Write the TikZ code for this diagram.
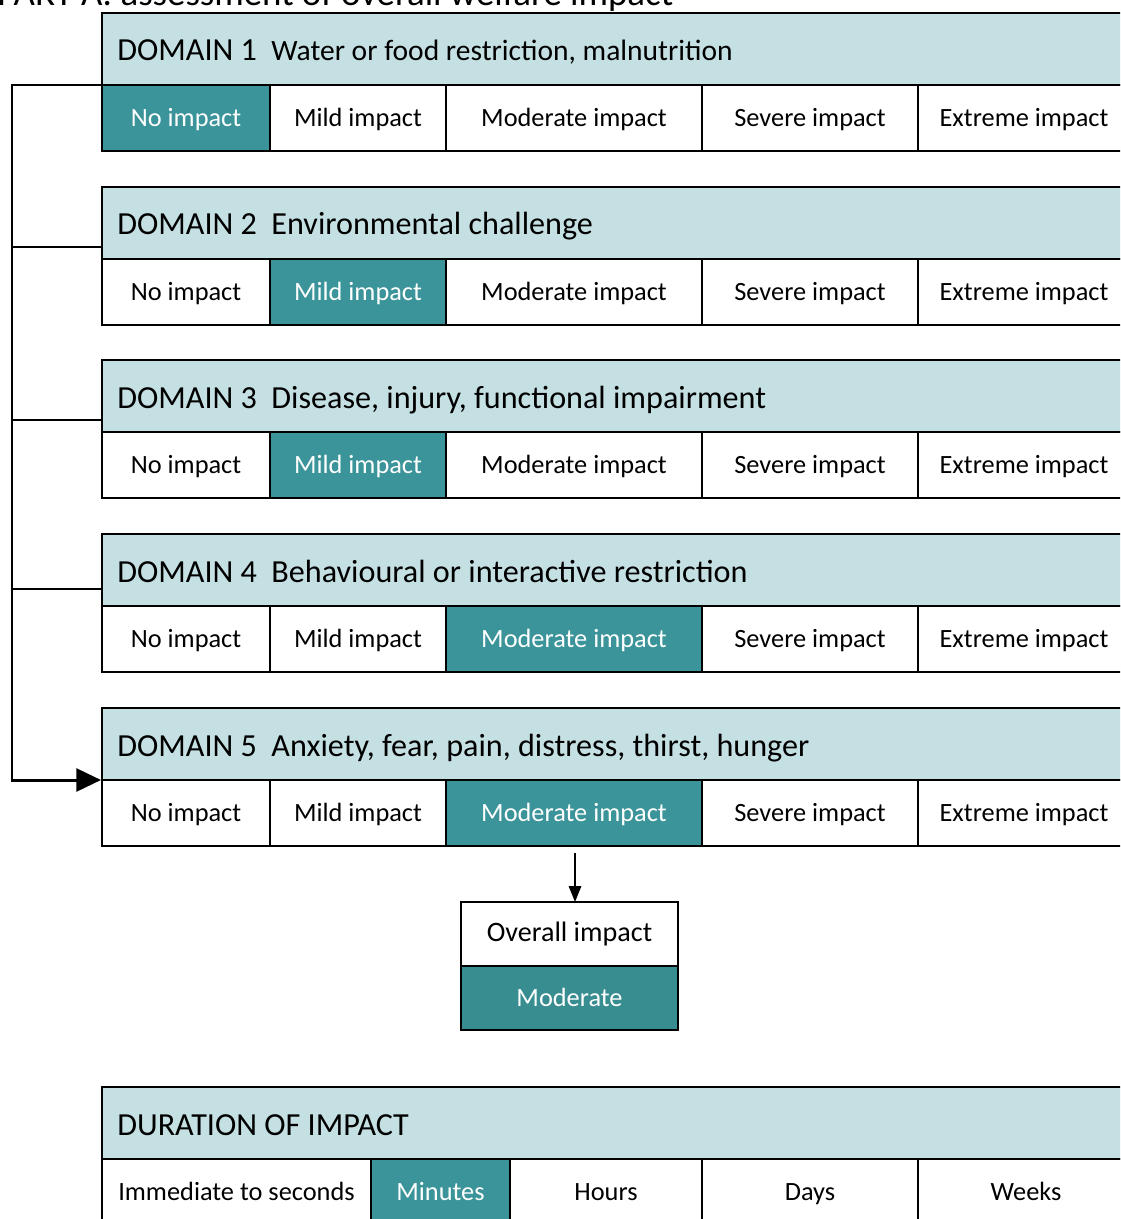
\documentclass[tikz,border=0pt]{standalone}
\usepackage{fontspec}
\setmainfont{Carlito}
\usetikzlibrary{arrows.meta}
\tikzset{>=Stealth}

\definecolor{headblue}{RGB}{197,224,227}
\definecolor{selteal}{RGB}{59,148,153}
\newcommand{\px}{0.02cm}

\tikzset{
  box/.style={draw=black,line width=1.1pt,inner sep=0pt,outer sep=0pt},
  head/.style={box,fill=headblue},
  cell/.style={box,fill=white,font=\fontsize{15}{18}\selectfont,text height=1em,text depth=0.07em},
  pick/.style={cell,fill=selteal,text=white},
  headtext/.style={anchor=base west,inner sep=0pt,font=\fontsize{18.3}{22}\selectfont},
  link/.style={line width=1.7pt,line join=miter},
}

\begin{document}
\begin{tikzpicture}[x=\px,y=-\px]
\useasboundingbox (0,0) rectangle (1120,1219);
\clip (0,0) rectangle (1120,1219);

% Title, cut off at the top
\node[anchor=base west,inner sep=0pt,font=\fontsize{21}{25}\selectfont] (title) at (-3,6)
  {PART A: assessment of overall welfare impact};

% The five domains
\foreach \n/\y/\t/\s/\f in {1/13/{Water or food restriction, malnutrition}/1/16.8,
                            2/187/{Environmental challenge}/2/18.3,
                            3/360/{Disease, injury, functional impairment}/2/18.3,
                            4/534/{Behavioural or interactive restriction}/3/18.3,
                            5/708/{Anxiety, fear, pain, distress, thirst, hunger}/3/18.3} {
  \node[head,minimum width=1028*\px,minimum height=72*\px,anchor=north west] (d\n) at (102,\y) {};
  \node[headtext] (d\n t) at (117,\y+48)
    {DOMAIN \n\hspace{0.45em}{\fontsize{\f}{22}\selectfont\t}};
  \foreach \a/\b/\lab [count=\k] in {102/270/No impact, 270/446/Mild impact,
                                     446/702/Moderate impact, 702/918/Severe impact,
                                     918/1130/Extreme impact} {
    \ifnum\k=\s \def\sty{pick}\else\def\sty{cell}\fi
    \node[\sty,minimum width={(\b-\a)*\px},minimum height=66*\px,anchor=north west]
      (d\n c\k) at (\a,\y+72) {\lab};
  }
}

% Bracket joining the domains
\coordinate (sp) at (12,0);
\draw[link,-{Triangle[length=14pt,width=13pt]}] (d1.south west) -- (d1.south west -| sp)
  |- ([xshift=-1*\px]d5.south west);
\draw[link] ([yshift=12*\px]d2.south west) -- ([yshift=12*\px]d2.south west -| sp);
\draw[link] ([yshift=12*\px]d3.south west) -- ([yshift=12*\px]d3.south west -| sp);
\draw[link] ([yshift=17*\px]d4.south west) -- ([yshift=17*\px]d4.south west -| sp);

% Overall impact
\node[box,fill=white,minimum width=217*\px,minimum height=64*\px,anchor=north,
  font=\fontsize{16}{19}\selectfont] (ovh) at (569.5,902) {Overall impact};
\node[pick,fill=selteal!95!black,minimum width=217*\px,minimum height=64*\px,anchor=north]
  (ovv) at (ovh.south) {Moderate};
\coordinate (ar) at (575,853);
\draw[line width=1pt,-{Triangle[length=9pt,width=7pt]}] (ar) -- (ar |- ovh.north);

% Duration of impact
\node[head,minimum width=1028*\px,minimum height=72*\px,anchor=north west] (du) at (102,1087) {};
\node[headtext] (du t) at (117,1087+48) {DURATION OF IMPACT};
\foreach \a/\b/\lab [count=\k] in {102/371/Immediate to seconds, 371/510/Minutes,
                                   510/702/Hours, 702/918/Days, 918/1134/Weeks} {
  \ifnum\k=2 \def\sty{pick}\else\def\sty{cell}\fi
  \node[\sty,minimum width={(\b-\a)*\px},minimum height=66*\px,anchor=north west]
    (du c\k) at (\a,1159) {\lab};
}

\end{tikzpicture}
\end{document}
